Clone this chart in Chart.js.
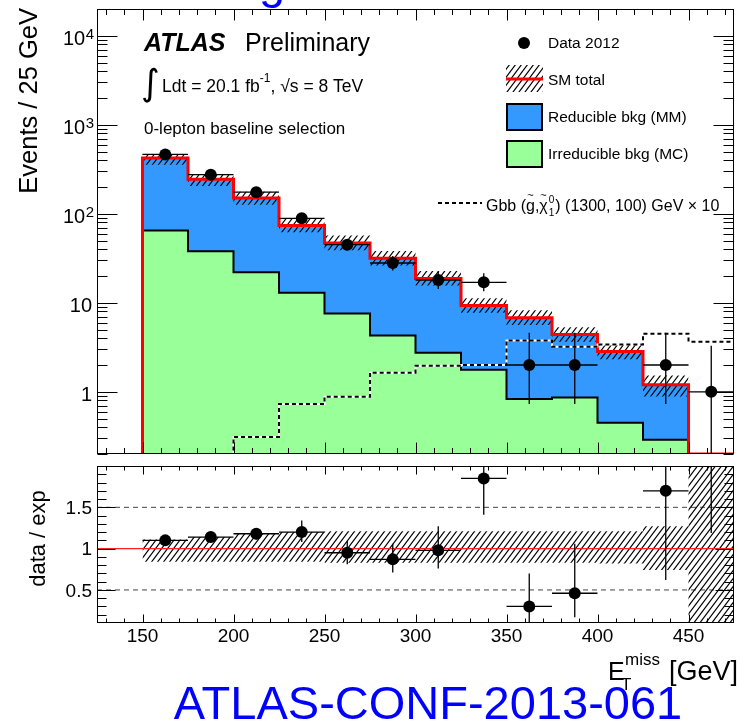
<!DOCTYPE html>
<html>
<head>
<meta charset="utf-8">
<script src="https://cdn.jsdelivr.net/npm/chart.js@4.4.1/dist/chart.umd.min.js"></script>
<style>
  html, body { margin: 0; padding: 0; background: #fff; overflow: hidden; }
  #wrap { position: relative; width: 740px; height: 726px; }
  canvas { position: absolute; left: 0; }
</style>
</head>
<body>
<div id="wrap">
  <canvas id="main" width="740" height="460" style="top:0"></canvas>
  <canvas id="ratio" width="740" height="266" style="top:460px"></canvas>
</div>
<script>
// ── ETmiss distribution, 0-lepton baseline selection ──────────────
// bins are 25 GeV wide, the first one (125-150) is empty
const binLow      = [125, 150, 175, 200, 225, 250, 275, 300, 325, 350, 375, 400, 425, 450];
const BIN_WIDTH   = 25;
const smTotal     = [null, 424, 245, 150, 74, 47, 31.6, 18.8, 9.3, 6.8, 4.4, 2.83, 1.2, 0];
const irreducible = [null, 65, 38, 22, 13, 7.6, 4.3, 2.75, 1.77, 0.83, 0.86, 0.45, 0.29, 0];
const signalX10   = [0, 0, 0, 0.31, 0.73, 0.88, 1.64, 1.96, 2.0, 3.76, 3.21, 3.39, 4.5, 3.66];
const dataCounts  = [null, 465, 275, 175, 89, 45, 28, 18, 17, 2, 2, 0, 2, 1];
const dataLow     = [null, 444, 258, 162, 80, 39, 23, 14.3, 13.5, 0.73, 0.73, null, 0.73, 0.17];
const dataHigh    = [null, 487, 292, 188, 99, 52, 33.5, 22.5, 21.5, 4.6, 4.6, null, 4.6, 3.3];

// relative SM uncertainty (hatched band)
const bandUp   = [null, 1.11, 1.14, 1.18, 1.20, 1.21, 1.21, 1.21, 1.21, 1.21, 1.21, 1.21, 1.27, 2.0];
const bandDown = [null, 0.84, 0.84, 0.84, 0.84, 0.83, 0.83, 0.83, 0.83, 0.83, 0.83, 0.82, 0.74, 0.1];

// data / exp
const ratioVal  = [null, 1.10, 1.14, 1.18, 1.20, 0.95, 0.87, 0.98, 1.85, 0.30, 0.46, null, 1.70, null];
const ratioLow  = [null, 1.05, 1.08, 1.11, 1.08, 0.81, 0.71, 0.76, 1.41, 0.05, 0.17, null, 0.62, 1.19];
const ratioHigh = [null, 1.15, 1.20, 1.25, 1.34, 1.09, 1.06, 1.27, 2.3, 0.70, 1.06, null, 2.9, 2.5];
const ratioRefLines = [0.5, 1.5];

const xTickLabels  = [150, 200, 250, 300, 350, 400, 450];
const yTickValues  = [1, 10, 100, 1000, 10000];
const yTickBase    = ['1', '10', '10', '10', '10'];
const yTickSup     = ['', '', '2', '3', '4'];
const ratioTickLabels = ['0.5', '1', '1.5'];

const X_MIN = 125, X_MAX = 475;
const Y_MIN = 0.2, Y_MAX = 2e4;
const R_MIN = 0.1, R_MAX = 2.0;
const FONT = '"Liberation Sans", Arial, Helvetica, sans-serif';
const BLUE = '#3399ff', GREEN = '#99ff99';

// step-histogram vertices for a stepped line
function histo(vals, floor) {
  const pts = [];
  let last = null;
  vals.forEach((v, i) => {
    if (v === null) return;
    const y = floor !== undefined ? Math.max(v, floor) : v;
    if (!pts.length && floor !== undefined) pts.push({ x: binLow[i], y: floor });
    pts.push({ x: binLow[i], y });
    last = { x: binLow[i] + BIN_WIDTH, y };
  });
  pts.push(last);
  return pts;
}

function hatchPattern(ctx) {
  const c = document.createElement('canvas');
  c.width = 6; c.height = 8;
  const g = c.getContext('2d');
  g.strokeStyle = '#000';
  g.lineWidth = 1.2;
  g.beginPath();
  g.moveTo(-0.75, 9); g.lineTo(6.75, -1);
  g.moveTo(-0.75, 1); g.lineTo(0.75, -1);
  g.moveTo(5.25, 9); g.lineTo(6.75, 7);
  g.stroke();
  return ctx.createPattern(c, 'repeat');
}

const mainBandUp = smTotal.map((s, i) => (s && bandUp[i] ? s * bandUp[i] : null));
const mainBandDown = smTotal.map((s, i) => (s && bandDown[i] ? s * bandDown[i] : null));

const errorBars = {
  id: 'errorBars',
  afterDatasetsDraw(chart, args, opts) {
    const { ctx, chartArea: a, scales: { x, y } } = chart;
    ctx.save();
    ctx.beginPath();
    ctx.rect(a.left, a.top, a.right - a.left, a.bottom - a.top);
    ctx.clip();
    ctx.strokeStyle = '#000';
    ctx.lineWidth = 1.3;
    ctx.beginPath();
    opts.low.forEach((lo, i) => {
      if (lo === null) return;
      const cx = x.getPixelForValue(binLow[i] + BIN_WIDTH / 2);
      ctx.moveTo(cx, y.getPixelForValue(lo));
      ctx.lineTo(cx, y.getPixelForValue(opts.high[i]));
      const v = opts.value[i];
      if (v) {
        const py = y.getPixelForValue(v);
        ctx.moveTo(x.getPixelForValue(binLow[i]), py);
        ctx.lineTo(x.getPixelForValue(binLow[i] + BIN_WIDTH), py);
      }
    });
    ctx.stroke();
    ctx.restore();
  }
};

// frame with inward ticks on all four sides
const frame = {
  id: 'frame',
  afterDraw(chart, args, opts) {
    const { ctx, chartArea: a, scales: { x, y } } = chart;
    const L = a.left + 0.5, R = a.right - 0.5, T = a.top + 0.5, B = a.bottom - 0.5;
    ctx.save();
    ctx.strokeStyle = '#000';
    ctx.lineWidth = 1;
    ctx.strokeRect(L, T, R - L, B - T);
    ctx.beginPath();
    for (let v = X_MIN + 5; v < X_MAX; v += 10) {
      const px = Math.round(x.getPixelForValue(v)) + 0.5;
      const len = v % 50 === 0 ? opts.xMajor : opts.xMinor;
      ctx.moveTo(px, B); ctx.lineTo(px, B - len);
      ctx.moveTo(px, T); ctx.lineTo(px, T + len);
    }
    opts.yTicks(y).forEach(([v, major]) => {
      const py = Math.round(y.getPixelForValue(v)) + 0.5;
      const len = major ? opts.yMajor : opts.yMinor;
      ctx.moveTo(L, py); ctx.lineTo(L + len, py);
      ctx.moveTo(R, py); ctx.lineTo(R - len, py);
    });
    ctx.stroke();
    ctx.restore();
  }
};

function logTicks() {
  const t = [];
  for (let e = -1; e <= 4; e++) {
    for (let m = 1; m <= 9; m++) {
      const v = m * Math.pow(10, e);
      if (v > Y_MIN * 0.999 && v < Y_MAX * 1.001) t.push([v, m === 1]);
    }
  }
  return t;
}
function ratioTicks() {
  const t = [];
  for (let k = 2; k < 20; k++) t.push([k / 10, k % 5 === 0]);
  return t;
}

// texts and legend of the upper panel
const mainText = {
  id: 'mainText',
  afterDraw(chart) {
    const { ctx, scales: { y } } = chart;
    ctx.save();
    ctx.fillStyle = '#000';
    ctx.textBaseline = 'alphabetic';

    // y tick labels
    yTickValues.forEach((v, i) => {
      const py = y.getPixelForValue(v);
      ctx.textAlign = 'right';
      if (yTickSup[i]) {
        ctx.font = `15px ${FONT}`;
        const sw = ctx.measureText(yTickSup[i]).width;
        ctx.fillText(yTickSup[i], 94, py + 3);
        ctx.font = `20px ${FONT}`;
        ctx.fillText(yTickBase[i], 94 - sw - 0.5, py + 9);
      } else {
        ctx.font = `20px ${FONT}`;
        ctx.fillText(yTickBase[i], 92, py + 9);
      }
    });

    // y title
    ctx.save();
    ctx.translate(37, 8);
    ctx.rotate(-Math.PI / 2);
    ctx.textAlign = 'right';
    ctx.font = `25.5px ${FONT}`;
    ctx.fillText('Events / 25 GeV', 0, 0);
    ctx.restore();

    ctx.textAlign = 'left';
    ctx.font = `italic bold 25px ${FONT}`;
    ctx.fillText('ATLAS', 144, 51);
    ctx.font = `25px ${FONT}`;
    ctx.fillText('Preliminary', 245, 51);

    ctx.font = `36px "DejaVu Sans"`;
    ctx.fillText('\u222B', 141, 95);
    let cx = 162;
    ctx.font = `17.5px ${FONT}`;
    ctx.fillText('Ldt = 20.1 fb', cx, 92);
    cx += ctx.measureText('Ldt = 20.1 fb').width;
    ctx.font = `12px ${FONT}`;
    ctx.fillText('-1', cx, 82);
    cx += ctx.measureText('-1').width;
    ctx.font = `17.5px ${FONT}`;
    ctx.fillText(', \u221As = 8 TeV', cx, 92);

    ctx.font = `17px ${FONT}`;
    ctx.fillText('0-lepton baseline selection', 144, 134);

    // legend
    const pat = hatchPattern(ctx);
    ctx.beginPath();
    ctx.arc(524, 43, 6, 0, 2 * Math.PI);
    ctx.fill();
    ctx.fillStyle = pat;
    ctx.fillRect(506, 65, 37, 27);
    ctx.strokeStyle = '#ff0000';
    ctx.lineWidth = 3;
    ctx.beginPath(); ctx.moveTo(506, 79); ctx.lineTo(543, 79); ctx.stroke();
    ctx.strokeStyle = '#000';
    ctx.lineWidth = 2;
    ctx.fillStyle = BLUE;
    ctx.fillRect(507, 104, 35, 26); ctx.strokeRect(507, 104, 35, 26);
    ctx.fillStyle = GREEN;
    ctx.fillRect(507, 141, 35, 26); ctx.strokeRect(507, 141, 35, 26);
    ctx.setLineDash([4, 3]);
    ctx.beginPath(); ctx.moveTo(438, 203); ctx.lineTo(482, 203); ctx.stroke();
    ctx.setLineDash([]);

    ctx.fillStyle = '#000';
    ctx.font = `15.5px ${FONT}`;
    ctx.fillText('Data 2012', 548, 48);
    ctx.fillText('SM total', 548, 85);
    ctx.fillText('Reducible bkg (MM)', 548, 122);
    ctx.fillText('Irreducible bkg (MC)', 548, 159);

    // Gbb (g~, chi~_1^0) (1300, 100) GeV x 10
    let sx = 486;
    const run = (t, font, dy) => {
      ctx.font = font;
      ctx.fillText(t, sx, 211 + dy);
      const w = ctx.measureText(t).width;
      sx += w;
      return w;
    };
    const tilde = (x0, w) => {
      ctx.save();
      ctx.font = `11px ${FONT}`;
      ctx.textAlign = 'center';
      ctx.fillText('~', x0 + w / 2, 199);
      ctx.restore();
    };
    const f = `16px ${FONT}`;
    run('Gbb (', f, 0);
    let x0 = sx; tilde(x0, run('g', f, 0));
    run(',', f, 0);
    x0 = sx; tilde(x0, run('\u03C7', f, 0));
    x0 = sx + 1;
    ctx.font = `10px ${FONT}`;
    ctx.fillText('0', x0, 203);
    sx += 1;
    run('1', `10px ${FONT}`, 5);
    sx += 1;
    run(') (1300, 100) GeV \u00D7 10', f, 0);

    // cut-off blue letter from the page above the figure
    ctx.fillStyle = '#0000ff';
    ctx.font = `47px ${FONT}`;
    ctx.fillText('g', 259, -2);
    ctx.restore();
  }
};

const ratioText = {
  id: 'ratioText',
  afterDraw(chart) {
    const { ctx, scales: { x, y } } = chart;
    ctx.save();
    ctx.fillStyle = '#000';
    ctx.font = `19px ${FONT}`;
    ctx.textAlign = 'right';
    ratioTickLabels.forEach(t => {
      ctx.fillText(t, 92, y.getPixelForValue(parseFloat(t)) + 6.7);
    });
    ctx.textAlign = 'center';
    xTickLabels.forEach(v => ctx.fillText(String(v), x.getPixelForValue(v), 182));

    ctx.save();
    ctx.translate(45, 78.5);
    ctx.rotate(-Math.PI / 2);
    ctx.font = `22px ${FONT}`;
    ctx.fillText('data / exp', 0, 0);
    ctx.restore();

    ctx.textAlign = 'left';
    ctx.font = `25px ${FONT}`;
    ctx.fillText('E', 608, 220);
    ctx.font = `17px ${FONT}`;
    ctx.fillText('miss', 625, 205);
    ctx.fillText('T', 621, 230);
    ctx.font = `27px ${FONT}`;
    ctx.textAlign = 'right';
    ctx.fillText('[GeV]', 738, 220);

    ctx.fillStyle = '#0000ff';
    ctx.textAlign = 'center';
    ctx.font = `47px ${FONT}`;
    ctx.fillText('ATLAS-CONF-2013-061', 428, 259);
    ctx.restore();
  }
};

const mainCanvas = document.getElementById('main');
const hatchMain = hatchPattern(mainCanvas.getContext('2d'));

new Chart(mainCanvas, {
  type: 'line',
  data: {
    datasets: [
      { // 0 data
        data: dataCounts.map((n, i) => (n ? { x: binLow[i] + BIN_WIDTH / 2, y: n } : null)).filter(Boolean),
        showLine: false, pointRadius: 6, pointBackgroundColor: '#000', pointBorderWidth: 0
      },
      { // 1 signal dashed
        data: histo(signalX10, Y_MIN), stepped: true, borderColor: '#000', borderWidth: 2,
        borderDash: [4, 3], pointRadius: 0, fill: false
      },
      { // 2 white under the dashes
        data: histo(signalX10, Y_MIN), stepped: true, borderColor: '#fff', borderWidth: 2,
        pointRadius: 0, fill: false
      },
      { // 3 SM total
        data: histo(smTotal, Y_MIN), stepped: true, borderColor: '#ff0000', borderWidth: 3,
        pointRadius: 0, fill: false
      },
      { // 4 band up
        data: histo(mainBandUp), stepped: true, borderColor: 'rgba(0,0,0,0)', borderWidth: 0,
        pointRadius: 0, fill: 5, backgroundColor: hatchMain
      },
      { // 5 band down
        data: histo(mainBandDown), stepped: true, borderColor: 'rgba(0,0,0,0)', borderWidth: 0,
        pointRadius: 0, fill: false
      },
      { // 6 irreducible
        data: histo(irreducible, Y_MIN), stepped: true, borderColor: '#000', borderWidth: 2,
        pointRadius: 0, fill: 'start', backgroundColor: GREEN
      },
      { // 7 reducible = SM total minus irreducible
        data: histo(smTotal, Y_MIN), stepped: true, borderColor: 'rgba(0,0,0,0)', borderWidth: 0,
        pointRadius: 0, fill: 6, backgroundColor: BLUE
      }
    ]
  },
  options: {
    responsive: false,
    animation: false,
    devicePixelRatio: 1,
    events: [],
    layout: { padding: { left: 97, right: 1, top: 9, bottom: 6 } },
    scales: {
      x: { type: 'linear', min: X_MIN, max: X_MAX, display: false },
      y: { type: 'logarithmic', min: Y_MIN, max: Y_MAX, display: false }
    },
    plugins: {
      legend: { display: false },
      tooltip: { enabled: false },
      errorBars: { value: dataCounts, low: dataLow, high: dataHigh },
      frame: { xMajor: 11, xMinor: 5.5, yMajor: 20, yMinor: 10, yTicks: logTicks }
    }
  },
  plugins: [errorBars, frame, mainText]
});

const ratioCanvas = document.getElementById('ratio');
const hatchRatio = hatchPattern(ratioCanvas.getContext('2d'));

new Chart(ratioCanvas, {
  type: 'line',
  data: {
    datasets: [
      { // 0 ratio points
        data: ratioVal.map((r, i) => (r !== null ? { x: binLow[i] + BIN_WIDTH / 2, y: r } : null)).filter(Boolean),
        showLine: false, pointRadius: 6, pointBackgroundColor: '#000', pointBorderWidth: 0
      },
      { // 1 unity
        data: [{ x: X_MIN, y: 1 }, { x: X_MAX, y: 1 }], borderColor: '#ff2020', borderWidth: 1.3,
        pointRadius: 0, fill: false
      },
      { // 2 band up
        data: histo(bandUp), stepped: true, borderColor: 'rgba(0,0,0,0)', borderWidth: 0,
        pointRadius: 0, fill: 3, backgroundColor: hatchRatio
      },
      { // 3 band down
        data: histo(bandDown), stepped: true, borderColor: 'rgba(0,0,0,0)', borderWidth: 0,
        pointRadius: 0, fill: false
      },
      ...ratioRefLines.map(r => ({
        data: [{ x: X_MIN, y: r }, { x: X_MAX, y: r }], borderColor: '#444', borderWidth: 1,
        borderDash: [5, 4], pointRadius: 0, fill: false
      }))
    ]
  },
  options: {
    responsive: false,
    animation: false,
    devicePixelRatio: 1,
    events: [],
    layout: { padding: { left: 97, right: 1, top: 6, bottom: 103 } },
    scales: {
      x: { type: 'linear', min: X_MIN, max: X_MAX, display: false },
      y: { type: 'linear', min: R_MIN, max: R_MAX, display: false }
    },
    plugins: {
      legend: { display: false },
      tooltip: { enabled: false },
      errorBars: { value: ratioVal, low: ratioLow, high: ratioHigh },
      frame: { xMajor: 8, xMinor: 4, yMajor: 18, yMinor: 9, yTicks: ratioTicks }
    }
  },
  plugins: [errorBars, frame, ratioText]
});
</script>
</body>
</html>
